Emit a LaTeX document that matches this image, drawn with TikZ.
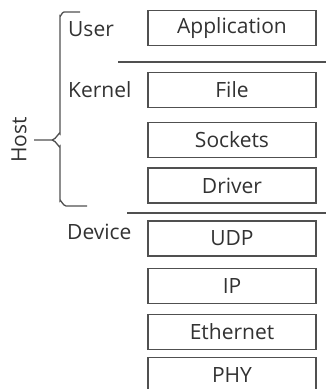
\documentclass[tikz,border=0pt]{standalone}
\usepackage{fontspec}
\setmainfont{Open Sans}
\usepackage{tikz}
\usetikzlibrary{positioning}
\usepackage{xcolor}
\definecolor{Ink}{RGB}{50,50,50}
\definecolor{Rule}{RGB}{80,80,80}
\tikzset{
  layer/.style={rectangle,draw=Rule,line width=1.3pt,fill=white,text=Ink,
                font=\fontsize{21}{24}\selectfont,minimum width=168pt,
                minimum height=35pt,inner sep=0pt},
  tag/.style={text=Ink,font=\fontsize{21}{24}\selectfont,inner sep=0pt,anchor=west},
  sep/.style={draw=Rule,line width=1.2pt},
  brace/.style={draw=Rule,line width=1.3pt},
}
\begin{document}
\begin{tikzpicture}[x=1pt,y=-1pt]
  \clip (0,0) rectangle (326,389);
  % stack of layers
  \node[layer] (app) at (232,28) {Application};
  \node[layer] (file) at (232,90) {File};
  \node[layer] (sock) at (232,140) {Sockets};
  \node[layer] (drv) at (232,185.5) {Driver};
  \node[layer] (udp) at (232,238.5) {UDP};
  \node[layer] (ip) at (232,286) {IP};
  \node[layer] (eth) at (232,332) {Ethernet};
  \node[layer] (phy) at (232,375) {PHY};
  % side labels
  \node[tag] (user) at (68,29) {User};
  \node[tag] (kern) at (68,90) {Kernel};
  \node[tag] (dev) at (67,232) {Device};
  \node[text=Ink,font=\fontsize{21}{24}\selectfont,rotate=90,inner sep=0pt] (host) at (19,140) {Host};
  % boundaries
  \draw[sep] (118,62) -- (326,62);
  \draw[sep] (127,213) -- (326,213);
  % brace
  \draw[brace] (80,12) -- (64,12) to[out=180,in=-90] (60,16) -- (60,134)
    to[out=90,in=0] (52,140) -- (34,140);
  \draw[brace] (52,140) to[out=0,in=-90] (60,146) -- (60,201)
    to[out=90,in=180] (66,206) -- (87,206);
\end{tikzpicture}
\end{document}
